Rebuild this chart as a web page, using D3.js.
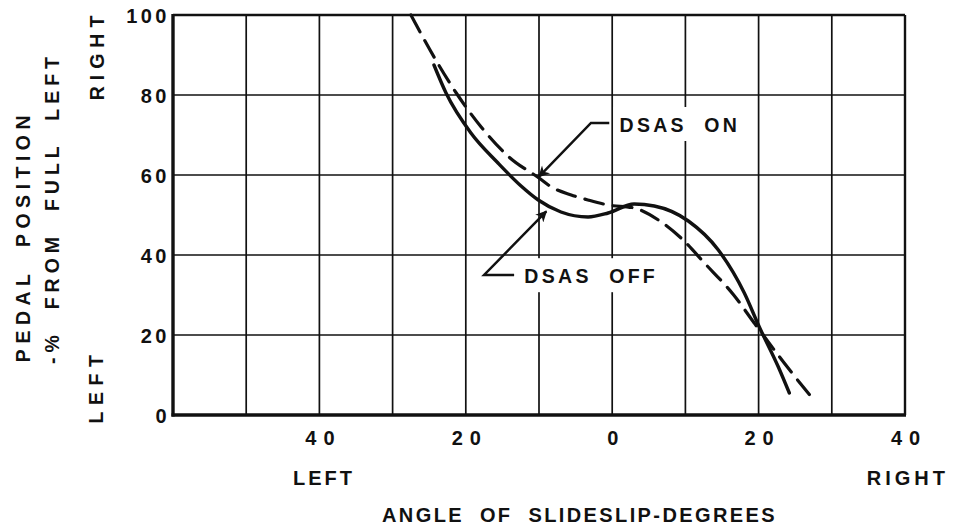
<!DOCTYPE html>
<html>
<head>
<meta charset="utf-8">
<script src="https://cdn.jsdelivr.net/npm/d3@7"></script>
<style>
  body { margin: 0; background: #fff; }
  svg text { font-family: "Liberation Sans", "DejaVu Sans", sans-serif; font-weight: bold; fill: #111; white-space: pre; }
</style>
</head>
<body>
<svg id="chart" width="956" height="526"></svg>
<script>
// slideslip angle (deg, negative = left) vs pedal position (% from full left)
var dsasOff = [
  [-24.35, 87.5], [-22.7, 80.5], [-19.3, 70.5], [-15.6, 63], [-12.45, 57.25],
  [-10.1, 53.75], [-7.0, 50.75], [-3.3, 49.5], [-0.55, 50.5], [3.0, 52.75],
  [5.75, 52.25], [10.4, 48.5], [14.5, 41.25], [18.05, 30.5], [20.1, 22],
  [22.7, 12], [24.2, 5.5]
];
var dsasOn = [
  [-27.5, 100], [-24.1, 88.75], [-21.3, 80.5], [-17.9, 72], [-14.1, 64.5],
  [-10.0, 59.25], [-8.3, 57], [-5.6, 55], [-3.3, 53.75], [-0.55, 52.5],
  [3.0, 51.75], [6.7, 48.25], [9.4, 44.25], [12.6, 38], [16.6, 30],
  [19.4, 23], [23.5, 13], [27.2, 4.5]
];
var xGrid = [-50, -40, -30, -20, -10, 0, 10, 20, 30];
var xTicks = [-40, -20, 0, 20, 40];
var yGrid = [20, 40, 60, 80];
var yTicks = [0, 20, 40, 60, 80, 100];

// leader lines for the two labels: [tip, elbow, end], plus label anchor
var onLeader = [[-10.0, 59.6], [-2.9, 73], [-0.4, 73]];
var onLabel = { text: "DSAS  ON", at: [1.0, 71] };
var offLeader = [[-9.0, 50.9], [-17.5, 35], [-13.4, 35]];
var offLabel = { text: "DSAS  OFF", at: [-12.0, 33.2] };

var svg = d3.select("#chart");

var x = d3.scaleLinear().domain([-60, 40]).range([173, 905]);
var y = d3.scaleLinear().domain([0, 100]).range([415, 15]);

// grid
svg.append("g").selectAll("line").data(xGrid).enter().append("line")
  .attr("x1", function(d) { return x(d); }).attr("x2", function(d) { return x(d); })
  .attr("y1", y(100)).attr("y2", y(0))
  .style("stroke", "#111").style("stroke-width", 1.7);

svg.append("g").selectAll("line").data(yGrid).enter().append("line")
  .attr("x1", x(-60)).attr("x2", x(40))
  .attr("y1", function(d) { return y(d); }).attr("y2", function(d) { return y(d); })
  .style("stroke", "#111").style("stroke-width", 1.7);

// frame
svg.append("line").attr("x1", x(-60)).attr("x2", x(40)).attr("y1", y(100)).attr("y2", y(100))
  .style("stroke", "#111").style("stroke-width", 2.4);
svg.append("line").attr("x1", x(40)).attr("x2", x(40)).attr("y1", y(100)).attr("y2", y(0))
  .style("stroke", "#111").style("stroke-width", 2.4);
svg.append("line").attr("x1", x(-60)).attr("x2", x(-60)).attr("y1", y(100) - 1).attr("y2", y(0) + 1.5)
  .style("stroke", "#111").style("stroke-width", 3.4);
svg.append("line").attr("x1", x(-60) - 1.5).attr("x2", x(40) + 1).attr("y1", y(0)).attr("y2", y(0))
  .style("stroke", "#111").style("stroke-width", 3.4);

// white patches behind the labels (grid is broken there)
function patch(lbl, w) {
  svg.append("rect")
    .attr("x", x(lbl.at[0]) - 6).attr("y", y(lbl.at[1]) - 24)
    .attr("width", w).attr("height", 34)
    .style("fill", "#fff");
}
patch(onLabel, 134);
patch(offLabel, 146);

// curves
var line = d3.line()
  .x(function(d) { return x(d[0]); })
  .y(function(d) { return y(d[1]); })
  .curve(d3.curveMonotoneX);

svg.append("path").datum(dsasOn).attr("d", line)
  .style("fill", "none").style("stroke", "#111").style("stroke-width", 3.2)
  .style("stroke-dasharray", "19,10").style("stroke-linecap", "round");

svg.append("path").datum(dsasOff).attr("d", line)
  .style("fill", "none").style("stroke", "#111").style("stroke-width", 3.4)
  .style("stroke-linecap", "round");

// leaders with arrowheads
svg.append("defs").append("marker")
  .attr("id", "arrow").attr("viewBox", "0 0 10 10")
  .attr("refX", 9).attr("refY", 5)
  .attr("markerWidth", 6.5).attr("markerHeight", 4.5)
  .attr("markerUnits", "strokeWidth")
  .attr("orient", "auto-start-reverse")
  .append("path").attr("d", "M0,0 L10,5 L0,10 L3,5 Z").style("fill", "#111");

var leader = d3.line()
  .x(function(d) { return x(d[0]); })
  .y(function(d) { return y(d[1]); });

[onLeader, offLeader].forEach(function(pts) {
  svg.append("path").datum(pts).attr("d", leader)
    .style("fill", "none").style("stroke", "#111").style("stroke-width", 2.5)
    .attr("marker-start", "url(#arrow)");
});

[onLabel, offLabel].forEach(function(lbl) {
  svg.append("text")
    .attr("x", x(lbl.at[0])).attr("y", y(lbl.at[1]) + 1)
    .style("font-size", "19.5px").style("letter-spacing", "3.3px")
    .text(lbl.text);
});

// tick labels
svg.append("g").selectAll("text").data(yTicks).enter().append("text")
  .attr("x", 170).attr("y", function(d) { return y(d) + 8; })
  .attr("text-anchor", "end")
  .style("font-size", "20px").style("letter-spacing", "3.5px")
  .text(function(d) { return d; });

svg.append("g").selectAll("text").data(xTicks).enter().append("text")
  .attr("x", function(d) { return x(d) + 4; }).attr("y", 445)
  .attr("text-anchor", "middle")
  .style("font-size", "20px").style("letter-spacing", "7px")
  .text(function(d) { return Math.abs(d); });

// axis words
svg.append("text").attr("x", 293).attr("y", 485)
  .style("font-size", "20px").style("letter-spacing", "3px").text("LEFT");
svg.append("text").attr("x", 949).attr("y", 485).attr("text-anchor", "end")
  .style("font-size", "20px").style("letter-spacing", "4px").text("RIGHT");
svg.append("text").attr("x", 382).attr("y", 522)
  .style("font-size", "20px").style("letter-spacing", "2.4px")
  .text("ANGLE  OF  SLIDESLIP-DEGREES");

function vtext(tx, ty, str, anchor, size, spacing) {
  svg.append("text")
    .attr("transform", "translate(" + tx + "," + ty + ") rotate(-90)")
    .attr("text-anchor", anchor)
    .style("font-size", size + "px").style("letter-spacing", spacing + "px")
    .text(str);
}
vtext(30, 236, "PEDAL  POSITION", "middle", 19.5, 5.5);
vtext(59, 208, "-%  FROM  FULL  LEFT", "middle", 19.5, 5);
vtext(104, 55, "RIGHT", "middle", 19.5, 6);
vtext(103, 386, "LEFT", "middle", 19.5, 6.5);
</script>
</body>
</html>
